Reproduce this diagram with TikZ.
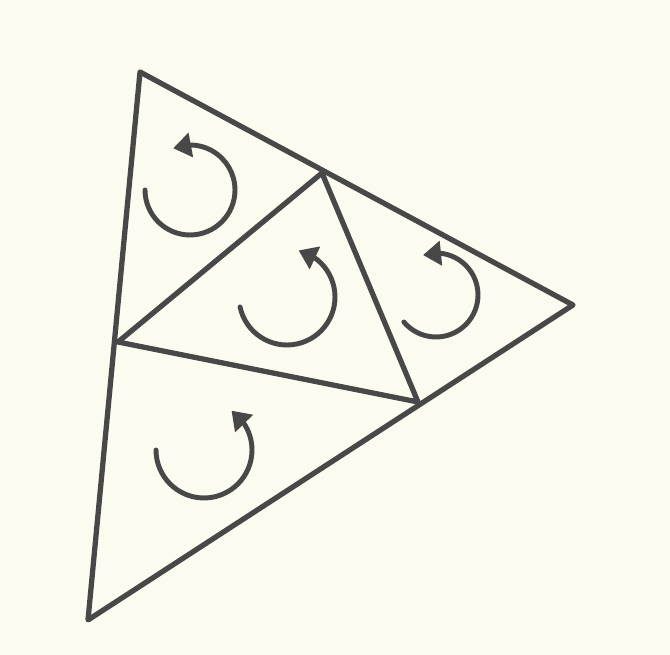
\documentclass[tikz,border=0pt]{standalone}
\usetikzlibrary{arrows.meta,bending}
\definecolor{paper}{RGB}{251,251,239}
\definecolor{pencil}{RGB}{72,72,72}

\begin{document}
\begin{tikzpicture}[
  x=0.02cm,y=0.02cm,
  edge/.style={pencil,line width=3pt,line join=round,line cap=round},
  turn/.style={pencil,line width=2.8pt,line cap=round,
               -{Triangle[length=0.36cm,width=0.48cm,flex]}},
]
  % Paper
  \fill[paper] (0,0) rectangle (670,655);
  \useasboundingbox (0,0) rectangle (670,655);

  % Corners of the big triangle
  \coordinate (top)   at (140,583);
  \coordinate (right) at (573,350);
  \coordinate (low)   at (88,35);

  % Points on its sides
  \coordinate (upmid)   at (322,482);
  \coordinate (leftmid) at (118,313);
  \coordinate (lowmid)  at (418,253);

  % Outer triangle
  \draw[edge] (top) -- (right) -- (low) -- cycle;

  % Inner triangle
  \draw[edge] (upmid) -- (leftmid) -- (lowmid) -- cycle;

  % Turning arrows
  \foreach \cx/\cy/\r/\s/\e in {190/465/0.9cm/180/472,
                                 287/358/0.96cm/192/436,
                                 436/360/0.84cm/220/468,
                                 204/205/0.96cm/180/415}
    \draw[turn] (\cx,\cy) ++(\s:\r) arc[start angle=\s,end angle=\e,radius=\r];
\end{tikzpicture}
\end{document}
